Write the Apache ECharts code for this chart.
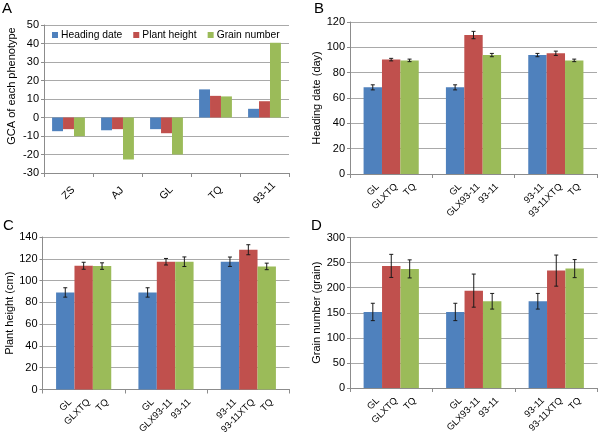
<!DOCTYPE html>
<html><head><meta charset="utf-8">
<script src="https://cdn.jsdelivr.net/npm/echarts@6/dist/echarts.min.js"></script>
<style>html,body{margin:0;padding:0;background:#fff}#c{width:600px;height:433px}</style>
</head><body><div id="c"></div>
<script>
// ---- Panel A data (GCA) ----
const gcaCategories = ['ZS', 'AJ', 'GL', 'TQ', '93-11'];
const gcaHeading = [-7.4, -6.9, -6.3, 15.2, 4.7];
const gcaHeight = [-6.3, -6.3, -8.5, 11.7, 8.8];
const gcaGrain = [-10.1, -22.7, -20.0, 11.4, 40.4];
const legendNames = ['Heading date', 'Plant height', 'Grain number'];

// ---- Panels B-D: bar labels per group ----
const groupKeys = ['g1', 'g2', 'g3'];
const labelsBlue = ['GL', 'GL', '93-11'];
const labelsRed = ['GLXTQ', 'GLX93-11', '93-11XTQ'];
const labelsGreen = ['TQ', '93-11', 'TQ'];

// ---- Panel B: heading date (day) ----
const hdBlue = [68.4, 68.4, 93.9], hdBlueErr = [2.0, 2.0, 1.3];
const hdRed = [90.3, 109.7, 95.3], hdRedErr = [1.0, 2.9, 1.7];
const hdGreen = [89.7, 93.9, 89.7], hdGreenErr = [1.0, 1.3, 1.0];

// ---- Panel C: plant height (cm) ----
const phBlue = [89.1, 89.1, 117.3], phBlueErr = [4.3, 4.3, 4.3];
const phRed = [113.6, 117.3, 128.3], phRedErr = [3.2, 3.0, 4.6];
const phGreen = [113.3, 117.3, 113.0], phGreenErr = [3.0, 4.4, 3.0];

// ---- Panel D: grain number ----
const gnBlue = [151.6, 151.6, 172.9], gnBlueErr = [17.3, 17.3, 15.6];
const gnRed = [243.4, 194.1, 234.0], gnRedErr = [23, 33, 31];
const gnGreen = [237.4, 172.9, 238.0], gnGreenErr = [18, 15.6, 18];

const COLORS = ['#4F81BD', '#C0504D', '#9BBB59'];
const FONT = 'Liberation Sans';
const GAP = 0.33;

const grids = [
  {left: 44, top: 25, width: 245, height: 148},
  {left: 350, top: 22, width: 247, height: 152},
  {left: 42.5, top: 237, width: 247, height: 152.5},
  {left: 350, top: 237.5, width: 247.5, height: 150.5}
];
const yCfg = [
  {min: -30, max: 50, interval: 10, name: 'GCA of each phenotype', pad: [0, 0, 0, 26]},
  {min: 0, max: 120, interval: 20, name: 'Heading date (day)', pad: 0},
  {min: 0, max: 140, interval: 20, name: 'Plant height (cm)', pad: 0},
  {min: 0, max: 300, interval: 50, name: 'Grain number (grain)', pad: 0}
];

const xAxes = grids.map((g, i) => ({
  type: 'category', gridIndex: i,
  data: i === 0 ? gcaCategories : groupKeys,
  axisLine: {onZero: false, lineStyle: {color: '#8c8c8c'}},
  axisTick: {show: true, length: 4, lineStyle: {color: '#8c8c8c'}},
  axisLabel: {show: i === 0, rotate: 45, margin: 20, align: 'center', verticalAlign: 'middle',
    fontSize: 10.5, color: '#000', fontFamily: FONT}
}));
const yAxes = yCfg.map((c, i) => ({
  type: 'value', gridIndex: i, min: c.min, max: c.max, interval: c.interval,
  name: c.name, nameLocation: 'middle', nameGap: i === 2 ? 26 : 27,
  nameTextStyle: {fontSize: 11, color: '#000', fontFamily: FONT, padding: c.pad},
  axisLine: {show: true, lineStyle: {color: '#8c8c8c'}},
  axisTick: {show: true, length: 3, lineStyle: {color: '#8c8c8c'}},
  splitLine: {lineStyle: {color: '#a9a9a9'}},
  axisLabel: {fontSize: 11, color: '#000', fontFamily: FONT, margin: 5}
}));

const series = [];
// Panel A bars
[gcaHeading, gcaHeight, gcaGrain].forEach((d, k) => {
  series.push({
    type: 'bar', name: legendNames[k], xAxisIndex: 0, yAxisIndex: 0, data: d,
    itemStyle: {color: COLORS[k]}, barGap: '0%', barCategoryGap: '33%'
  });
});

function errRender(params, api) {
  const cat = api.value(0), val = api.value(1), err = api.value(2), pos = api.value(3);
  const band = api.size([1, 0])[0];
  const barW = band * (1 - GAP) / 3;
  const cx = api.coord([cat, val])[0] + (pos - 1) * barW;
  const yt = api.coord([cat, val + err])[1];
  const yb = api.coord([cat, val - err])[1];
  const c = 2;
  const st = {stroke: '#1a1a1a', lineWidth: 1};
  return {type: 'group', children: [
    {type: 'line', shape: {x1: cx, y1: yt, x2: cx, y2: yb}, style: st},
    {type: 'line', shape: {x1: cx - c, y1: yt, x2: cx + c, y2: yt}, style: st},
    {type: 'line', shape: {x1: cx - c, y1: yb, x2: cx + c, y2: yb}, style: st}
  ]};
}

const panels = [
  [[hdBlue, hdBlueErr], [hdRed, hdRedErr], [hdGreen, hdGreenErr]],
  [[phBlue, phBlueErr], [phRed, phRedErr], [phGreen, phGreenErr]],
  [[gnBlue, gnBlueErr], [gnRed, gnRedErr], [gnGreen, gnGreenErr]]
];
const barLabels = [labelsBlue, labelsRed, labelsGreen];
panels.forEach((p, pi) => {
  const ai = pi + 1;
  const errData = [];
  p.forEach(([vals, errs], k) => {
    series.push({
      type: 'bar', name: 'p' + ai + '_' + k, xAxisIndex: ai, yAxisIndex: ai, data: vals,
      itemStyle: {color: COLORS[k]}, barGap: '0%', barCategoryGap: '33%',
      label: {
        show: true, position: 'bottom', distance: 9, rotate: 45, offset: [2, 5],
        align: 'right', verticalAlign: 'middle',
        fontSize: 9.5, color: '#000', fontFamily: FONT,
        formatter: (q) => barLabels[k][q.dataIndex]
      }
    });
    vals.forEach((v, j) => errData.push([j, v, errs[j], k]));
  });
  series.push({
    type: 'custom', xAxisIndex: ai, yAxisIndex: ai, z: 5,
    renderItem: errRender, data: errData, encode: {x: 0, y: 1}
  });
});

const chart = echarts.init(document.getElementById('c'), null, {renderer: 'canvas'});
chart.setOption({
  animation: false,
  textStyle: {fontFamily: FONT},
  title: [
    {text: 'A', left: 2, top: 1},
    {text: 'B', left: 314, top: 1},
    {text: 'C', left: 3, top: 218},
    {text: 'D', left: 311, top: 218}
  ].map(t => Object.assign(t, {textStyle: {fontSize: 15, fontWeight: 'normal', color: '#000', fontFamily: FONT}, padding: 0})),
  legend: {
    data: legendNames, left: 47, top: 25, itemWidth: 6, itemHeight: 6, itemGap: 11,
    icon: 'rect', textStyle: {fontSize: 10.3, color: '#000', fontFamily: FONT, padding: [0, 0, 0, -2]}
  },
  grid: grids,
  xAxis: xAxes,
  yAxis: yAxes,
  series: series
});
</script></body></html>
